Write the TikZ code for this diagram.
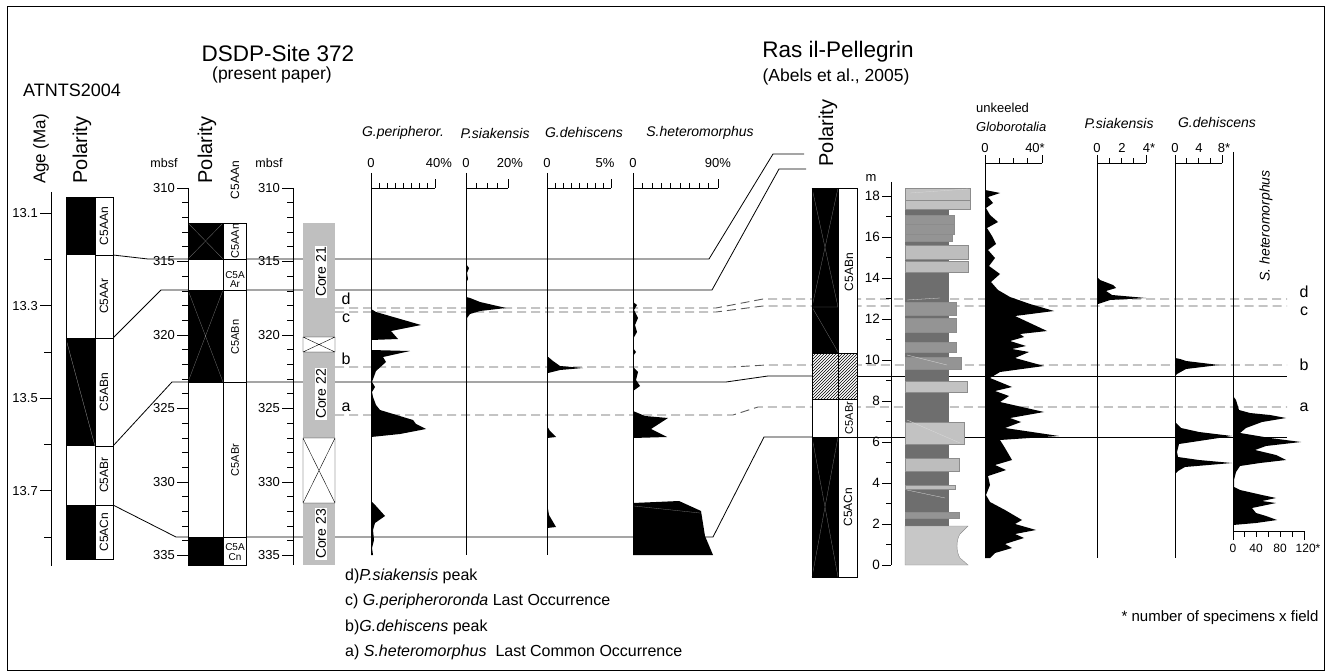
\documentclass[tikz,border=0pt]{standalone}
\usepackage{fontspec}
\setmainfont{Liberation Sans}
\usetikzlibrary{patterns}
\newcommand\fsz[1]{\fontsize{#1}{#1}\selectfont}
\begin{document}
\begin{tikzpicture}[x=1pt,y=-1pt,
  every node/.style={inner sep=0pt},
  ttl/.style={font=\fsz{22.5}},
  sub/.style={font=\fsz{17.5}},
  pol/.style={font=\fsz{20},rotate=90},
  num/.style={font=\fsz{13}},
  chron/.style={font=\fsz{12},rotate=90},
  chs/.style={font=\fsz{10}},
  spc/.style={font=\fsz{14}\itshape},
  leg/.style={font=\fsz{16},anchor=west},
  mkl/.style={font=\fsz{16}},
  corr/.style={line width=0.8pt},
  mk/.style={line width=0.9pt,black!65,dash pattern=on 9pt off 5pt},
  faint/.style={black!55,line width=0.3pt},
  ax/.style={line width=0.7pt},
  bed/.style={draw=black!45,line width=0.4pt}]
\useasboundingbox (0,0) rectangle (1331,671);
\draw[line width=1pt] (7,7) rectangle (1324,670);

% ================= correlation lines (behind columns) =================
\draw[corr] (113,255) -- (148,259) -- (709,259) -- (773,154) -- (804,154);
\draw[corr] (113,338) -- (161,290) -- (712,290) -- (779,169) -- (806,169);
\draw[corr] (113,446) -- (172,382) -- (726,382) -- (768,376) -- (812,376);
\draw[corr] (113,505) -- (176,537) -- (713,537) -- (764,437) -- (812,437);
\draw[corr] (857,376) -- (1287,376);
\draw[corr] (857,437) -- (1287,437);
\draw[mk] (335,308) -- (716,308) -- (763,299) -- (1287,299);
\draw[mk] (335,312) -- (716,312) -- (763,306) -- (1287,306);
\draw[mk] (335,367) -- (733,367) -- (766,365) -- (1287,365);
\draw[mk] (335,415) -- (733,415) -- (758,407) -- (1287,407);
\node[mkl] (dl) at (346,299) {d};
\node[mkl] (cl) at (346,318) {c};
\node[mkl] (bl) at (346,359) {b};
\node[mkl] (al) at (346,407) {a};
\node[mkl] (dr) at (1304,292) {d};
\node[mkl] (cr) at (1304,311) {c};
\node[mkl] (br) at (1304,365) {b};
\node[mkl] (ar) at (1304,407) {a};

% ================= ATNTS2004 =================
\node[font=\fsz{18}] (atnts) at (72,90) {ATNTS2004};
\node[font=\fsz{17},rotate=90] (age) at (41,149) {Age (Ma)};
\node[pol] (polA) at (82,150) {Polarity};
\draw[ax] (51,192) -- (51,566);
\foreach \i/\t in {0/13.1,2/13.3,4/13.5,6/13.7} {
  \draw[ax] (40,213+\i*46.3) -- (51,213+\i*46.3);
  \node[num,anchor=east] at (38,213+\i*46.3) {\t};
}
\foreach \i in {1,3,5,7} {\draw[ax] (44,213+\i*46.3) -- (51,213+\i*46.3);}
\fill[white] (66,197) rectangle (113,559);
\fill (66,197) rectangle (95,255);
\fill (66,338) rectangle (95,446);
\fill (66,505) rectangle (95,559);
\draw[faint,white!60!black] (66,339) -- (95,446);
\draw[ax] (66,197) rectangle (95,559);
\draw[ax] (95,197) rectangle (113,559);
\draw[ax] (95,255) -- (113,255) (95,338) -- (113,338) (95,446) -- (113,446) (95,505) -- (113,505);
\node[chron] at (104,226) {C5AAn};
\node[chron] at (104,296) {C5AAr};
\node[chron] at (104,392) {C5ABn};
\node[chron] at (104,475) {C5ABr};
\node[chron] at (104,532) {C5ACn};

% ================= DSDP-Site 372 =================
\node[ttl] (dsdp) at (278,53) {DSDP-Site 372};
\node[sub] (dsdp2) at (272,75) {(present paper)};
\node[pol] (polD) at (207,150) {Polarity};
\node[chron] (hdr) at (235,180) {C5AAn};
\node[font=\fsz{12.5}] (mb1) at (164,163) {mbsf};
\node[font=\fsz{12.5}] (mb2) at (269,163) {mbsf};
\draw[ax] (188,188) -- (188,565);
\draw[ax] (293,188) -- (293,565);
\foreach \m in {0,...,25} {
  \draw[ax] (182,188+\m*14.7) -- (188,188+\m*14.7);
  \draw[ax] (287,188+\m*14.7) -- (293,188+\m*14.7);
}
\foreach \m/\t in {0/310,5/315,10/320,15/325,20/330,25/335} {
  \draw[ax] (177,188+\m*14.7) -- (188,188+\m*14.7);
  \draw[ax] (282,188+\m*14.7) -- (293,188+\m*14.7);
  \node[num,anchor=east] at (175,188+\m*14.7) {\t};
  \node[num,anchor=east] at (280,188+\m*14.7) {\t};
}
\fill[white] (188,223) rectangle (246,565);
\fill (188,223) rectangle (223,259);
\fill (188,290) rectangle (223,382);
\fill (188,537) rectangle (223,565);
\draw[faint] (188,223) -- (223,259) (188,259) -- (223,223);
\draw[faint] (188,290) -- (223,382) (188,382) -- (223,290);
\draw[ax] (188,223) rectangle (223,565);
\draw[ax] (223,223) rectangle (246,565);
\draw[ax] (188,259) -- (246,259) (188,290) -- (246,290) (188,382) -- (246,382) (188,537) -- (246,537);
\node[font=\fsz{11},rotate=90] at (235,241) {C5AAn};
\node[chs] at (235,275) {C5A};
\node[chs] at (235,284) {Ar};
\node[font=\fsz{11},rotate=90] at (235,337) {C5ABn};
\node[font=\fsz{11},rotate=90] at (235,460) {C5ABr};
\node[chs] at (235,547) {C5A};
\node[chs] at (235,557) {Cn};

% cores
\fill[black!25] (303,223) rectangle (335,337);
\fill[black!25] (303,352) rectangle (335,438);
\fill[black!25] (303,503) rectangle (335,565);
\fill[white] (303,337) rectangle (335,352);
\fill[white] (303,438) rectangle (335,503);
\draw (303,337) rectangle (335,352) (303,337) -- (335,352) (303,352) -- (335,337);
\draw (303,438) rectangle (335,503) (303,438) -- (335,503) (303,503) -- (335,438);
\node[font=\fsz{14},rotate=90,fill=white,inner sep=1.5pt] (c21) at (321,272) {Core 21};
\node[font=\fsz{14},rotate=90,fill=white,inner sep=1.5pt] (c22) at (321,394) {Core 22};
\node[font=\fsz{14},rotate=90,fill=white,inner sep=1.5pt] (c23) at (321,534) {Core 23};

% faunal scales DSDP
\foreach \x/\w/\n in {371/64/8, 466/42/4, 547/64/8, 633/85/9} {
  \draw[ax] (\x,173) -- (\x,555);
  \draw[ax] (\x,188) -- (\x+\w,188);
  \foreach \i in {1,...,\n} {\draw[ax] (\x+\i*\w/\n,188) -- (\x+\i*\w/\n,183);}
  \draw[ax] (\x+\w,188) -- (\x+\w,179);
  \node[num] at (\x,163) {0};
}
\node[num] at (439,163) {40\%};
\node[num] at (510,163) {20\%};
\node[num] at (605,163) {5\%};
\node[num] at (718,163) {90\%};
\node[spc] (sp1) at (403,133) {G.peripheror.};
\node[spc] (sp2) at (495,133) {P.siakensis};
\node[spc] (sp3) at (584,133) {G.dehiscens};
\node[spc] (sp4) at (700,133) {S.heteromorphus};

% G.peripheror.
\fill (371,309) -- (376,312) -- (421,325) -- (391,331) -- (398,339) -- (371,340) -- cycle;
\fill (371,350) -- (410,351) -- (383,357) -- (386,362) -- (376,371) -- (372,382) -- (375,387) -- (372,392) -- (373,397) -- (376,405) -- (380,410) -- (413,420) -- (416,424) -- (426,429) -- (400,434) -- (371,437) -- cycle;
\fill (371,501) -- (376,506) -- (385,516) -- (375,523) -- (373,530) -- (374,540) -- (372,548) -- (373,555) -- (371,555) -- cycle;
% P.siakensis
\fill (466,264) -- (469,268) -- (467,273) -- (468,279) -- (466,283) -- cycle;
\fill (466,297) -- (470,298) -- (480,302) -- (506,308) -- (480,311) -- (470,314) -- (467,318) -- (467,330) -- (466,331) -- cycle;
% G.dehiscens
\fill (547,356) -- (553,361) -- (560,366) -- (583,368) -- (560,370) -- (548,373) -- cycle;
\fill (547,426) -- (550,431) -- (556,437) -- (547,438) -- cycle;
\fill (547,503) -- (549,515) -- (556,527) -- (547,528) -- cycle;
% S.heteromorphus
\fill (633,302) -- (637,305) -- (634,310) -- (638,318) -- (635,325) -- (637,332) -- (633,339) -- cycle;
\fill (633,348) -- (636,352) -- (633,356) -- cycle;
\fill (633,367) -- (638,372) -- (636,380) -- (640,386) -- (633,391) -- cycle;
\fill (633,411) -- (645,416) -- (668,418) -- (651,429) -- (667,437) -- (633,438) -- cycle;
\fill (633,503) -- (679,501) -- (701,511) -- (705,536) -- (713,555) -- (633,555) -- cycle;
\draw[faint] (634,506) -- (700,513);

% ================= Ras il-Pellegrin =================
\node[ttl] (ras) at (838,52) {Ras il-Pellegrin};
\node[sub] (ras2) at (836,77) {(Abels et al., 2005)};
\node[pol] (polR) at (828,133) {Polarity};
\fill[white] (812,188) rectangle (857,577);
\fill (812,188) rectangle (838,353);
\fill (812,437) rectangle (838,577);
\draw[faint] (812,188) -- (838,307) (812,307) -- (838,188) (812,307) -- (838,307) (812,307) -- (838,352);
\draw[faint] (812,437) -- (838,577) (812,577) -- (838,437);
\fill[pattern=north east lines] (812,353) rectangle (857,399);
\draw[ax] (812,188) rectangle (838,577);
\draw[ax] (838,188) rectangle (857,577);
\draw[ax] (812,353) -- (857,353) (812,399) -- (857,399) (812,437) -- (857,437);
\node[chron] at (849,272) {C5ABn};
\node[font=\fsz{11},rotate=90] at (849,418) {C5ABr};
\node[chron] at (848,507) {C5ACn};
% m axis
\node[num] (mlab) at (871,178) {m};
\draw[ax] (891,182) -- (891,565);
\foreach \m in {0,...,18} {\draw[ax] (886,565-\m*20.5) -- (891,565-\m*20.5);}
\foreach \m in {0,2,...,18} {
  \draw[ax] (882,565-\m*20.5) -- (891,565-\m*20.5);
  \node[font=\fsz{13.5},anchor=east] at (880,565-\m*20.5) {\m};
}
% lithology
\fill[black!57] (905,188) rectangle (949,526);
\foreach \a/\b/\w/\c in {188/200/970/24, 200/209/970/24, 215/224/954/42, 224/234/954/42, 234/241/952/42, 245/259/968/26, 261/272/968/26, 302/315/956/42, 318/332/956/42, 342/352/956/42, 357/369/961/42, 381/392/967/24, 422/444/964/24, 458/471/959/26, 485/489/955/26, 512/518/959/42} {
  \filldraw[fill=black!\c,bed] (905,\a) rectangle (\w,\b);
}
\filldraw[fill=black!22,bed] (905,526) -- (968,526) -- (960,534) .. controls (956,540) and (956,552) .. (960,558) -- (968,565) -- (905,565) -- cycle;
\draw[white!85!black,line width=0.3pt] (910,193) -- (968,189) (907,300) -- (940,298) (907,355) -- (947,365) (907,420) -- (960,443) (907,490) -- (945,498);

% unkeeled Globorotalia
\node[font=\fsz{13},anchor=west] (unk) at (976,108) {unkeeled};
\node[spc,font=\fsz{13}\itshape,anchor=west] (glo) at (976,127) {Globorotalia};
\draw[ax] (985,155) -- (985,558);
\draw[ax] (985,163) -- (1042,163);
\foreach \i in {1,2,3} {\draw[ax] (985+\i*14.25,163) -- (985+\i*14.25,158);}
\draw[ax] (1042,163) -- (1042,155);
\node[num] at (985,148) {0};
\node[num] at (1035,148) {40*};
\fill (985,190) -- (1000,193) -- (988,197) -- (993,203) -- (986,208) -- (990,215) -- (998,222) -- (987,228) -- (992,236) -- (996,244) -- (988,250) -- (995,258) -- (989,266) -- (1000,274) -- (991,282) -- (998,290) -- (1010,297) -- (1030,304) -- (1054,311) -- (1015,316) -- (1047,331) -- (1020,334) -- (1024,337) -- (1010,341) -- (1026,346) -- (1012,349) -- (1029,352) -- (1015,358) -- (1044,366) -- (1000,372) -- (990,378) -- (1012,387) -- (995,391) -- (1009,396) -- (1000,402) -- (1044,412) -- (1010,418) -- (1021,422) -- (1005,428) -- (1059,436) -- (1000,440) -- (1005,448) -- (1012,460) -- (995,465) -- (1006,470) -- (988,476) -- (990,485) -- (986,495) -- (990,502) -- (1005,510) -- (1022,520) -- (1015,524) -- (1036,530) -- (1015,534) -- (1024,538) -- (1005,544) -- (1012,548) -- (995,553) -- (990,558) -- (985,558) -- cycle;

% P.siakensis (Ras)
\node[spc] (sp5) at (1119,123) {P.siakensis};
\draw[ax] (1097,155) -- (1097,558);
\draw[ax] (1097,163) -- (1146,163);
\foreach \i in {1,2,3} {\draw[ax] (1097+\i*12.25,163) -- (1097+\i*12.25,158);}
\draw[ax] (1146,163) -- (1146,155);
\node[num] at (1097,148) {0};
\node[num] at (1122,148) {2};
\node[num] at (1149,148) {4*};
\fill (1097,277) -- (1100,280) -- (1113,285) -- (1116,288) -- (1106,291) -- (1112,295) -- (1146,298) -- (1110,300) -- (1098,304) -- (1097,305) -- cycle;

% G.dehiscens (Ras)
\node[spc] (sp6) at (1217,123) {G.dehiscens};
\draw[ax] (1175,155) -- (1175,558);
\draw[ax] (1175,163) -- (1222,163);
\foreach \i in {1,2,3} {\draw[ax] (1175+\i*11.75,163) -- (1175+\i*11.75,158);}
\draw[ax] (1222,163) -- (1222,155);
\node[num] at (1175,148) {0};
\node[num] at (1199,148) {4};
\node[num] at (1224,148) {8*};
\fill (1175,358) -- (1180,359) -- (1186,361) -- (1219,365) -- (1186,369) -- (1177,374) -- (1175,376) -- cycle;
\fill (1175,422) -- (1181,428) -- (1199,432) -- (1232,436) -- (1199,441) -- (1179,444) -- (1177,452) -- (1178,457) -- (1199,460) -- (1232,463) -- (1185,467) -- (1178,471) -- (1175,474) -- cycle;

% S. heteromorphus (Ras)
\node[spc,rotate=90] (sp7) at (1266,226) {S. heteromorphus};
\draw[ax] (1233,152) -- (1233,531);
\fill (1233,396) -- (1236,400) -- (1239,410) -- (1250,413) -- (1270,415) -- (1286,418) -- (1262,422) -- (1246,428) -- (1240,433) -- (1270,438) -- (1301,442) -- (1266,446) -- (1255,450) -- (1276,455) -- (1286,460) -- (1260,463) -- (1240,466) -- (1236,472) -- (1234,480) -- (1234,487) -- (1240,490) -- (1262,495) -- (1276,498) -- (1262,501) -- (1276,503) -- (1252,508) -- (1256,513) -- (1266,516) -- (1277,520) -- (1256,523) -- (1233,525) -- cycle;
\draw[ax] (1233,531) -- (1304,531);
\foreach \i in {1,...,5} {\draw[ax] (1233+\i*11.83,531) -- (1233+\i*11.83,537);}
\draw[ax] (1233,531) -- (1233,540);
\draw[ax] (1304,531) -- (1304,540);
\node[font=\fsz{12}] at (1233,548) {0};
\node[font=\fsz{12}] at (1256,548) {40};
\node[font=\fsz{12}] at (1280,548) {80};
\node[font=\fsz{12}] at (1308,548) {120*};
\node[font=\fsz{15}] (note) at (1220,618) {* number of specimens x field};

% ================= legend =================
\node[leg] (l1) at (345,576) {d)\textit{P.siakensis} peak};
\node[leg] (l2) at (345,601) {c) \textit{G.peripheroronda} Last Occurrence};
\node[leg] (l3) at (345,627) {b)\textit{G.dehiscens} peak};
\node[leg] (l4) at (345,652) {a) \textit{S.heteromorphus}\ \ Last Common Occurrence};
\end{tikzpicture}
\end{document}
